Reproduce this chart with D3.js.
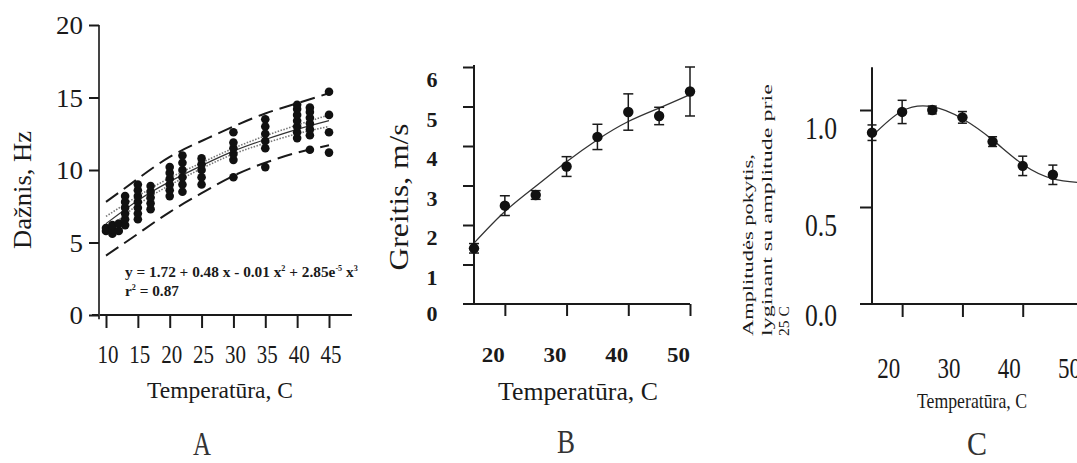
<!DOCTYPE html>
<html>
<head>
<meta charset="utf-8">
<script src="https://cdn.jsdelivr.net/npm/d3@7"></script>
<style>
  body { margin: 0; background: #fff; }
  svg { display: block; font-family: "Liberation Serif", "Times New Roman", serif; }
  svg text { font-family: "Liberation Serif", "Times New Roman", serif; }
</style>
</head>
<body>
<svg id="chart" width="1077" height="463"></svg>
<script>
// ---- panel A: frequency vs temperature ----
var aTemps = [10, 11, 12, 13, 15, 17, 20, 22, 25, 30, 35, 40, 42, 45];
var aValues = [
  [5.8, 6.0],
  [5.6, 5.9, 6.2],
  [5.8, 6.3],
  [6.2, 6.6, 7.0, 7.4, 7.8, 8.2],
  [6.6, 7.0, 7.4, 7.8, 8.2, 8.6, 9.0],
  [7.3, 7.7, 8.1, 8.5, 8.9],
  [8.2, 8.6, 9.0, 9.4, 9.8, 10.2],
  [8.5, 9.0, 9.5, 10.0, 10.5, 11.0],
  [9.0, 9.5, 10.0, 10.4, 10.8],
  [9.5, 10.7, 11.1, 11.5, 11.9, 12.6],
  [10.2, 11.5, 12.0, 12.5, 13.0, 13.5],
  [12.2, 12.6, 13.0, 13.4, 13.8, 14.2, 14.5],
  [11.4, 12.4, 12.8, 13.2, 13.6, 14.0, 14.3],
  [11.2, 12.6, 13.8, 15.4]
];
var aFitT  = [10, 15, 20, 25, 30, 35, 40, 45];
var aFit   = [6.3, 7.9, 9.2, 10.3, 11.3, 12.1, 12.8, 13.4];
var aCiHi  = [6.8, 8.2, 9.45, 10.5, 11.5, 12.35, 13.1, 13.8];
var aCiLo  = [5.8, 7.6, 8.95, 10.1, 11.1, 11.85, 12.5, 13.0];
var aPredHi = [7.8, 9.4, 10.9, 12.0, 13.0, 13.9, 14.6, 15.3];
var aPredLo = [4.1, 5.6, 7.1, 8.4, 9.6, 10.5, 11.2, 11.7];
var aXTicks = [10, 15, 20, 25, 30, 35, 40, 45];
var aYTicks = [0, 5, 10, 15, 20];

// ---- panel B: speed vs temperature ----
var bTemps = [15, 20, 25, 30, 35, 40, 45, 50];
var bMeans = [1.41, 2.49, 2.76, 3.48, 4.23, 4.86, 4.76, 5.38];
var bErr   = [0.12, 0.25, 0.11, 0.25, 0.32, 0.46, 0.22, 0.62];
var bFit   = [1.54, 2.34, 2.98, 3.6, 4.16, 4.62, 4.96, 5.3];
var bXTicks = [20, 30, 40, 50];
var bYTicks = [0, 1, 2, 3, 4, 5, 6];

// ---- panel C: relative amplitude vs temperature ----
var cTemps = [15, 20, 25, 30, 35, 40, 45, 50];
var cMeans = [0.883, 0.99, 1.0, 0.962, 0.837, 0.712, 0.666, 0.63];
var cErr   = [0.04, 0.06, 0.02, 0.03, 0.025, 0.05, 0.05, 0.04];
var cFit   = [0.865, 0.995, 1.017, 0.955, 0.846, 0.72, 0.645, 0.625];
var cXTicks = [20, 30, 40, 50];
var cYTicks = [0, 0.5, 1.0];

var svg = d3.select("#chart");
var ink = "#1a1a1a";

// put a text at x,y, optionally rotated, squeezed to a given width/length
function label(g, s, x, y, o) {
  var t = g.append("text").text(s)
    .attr("font-size", o.size)
    .attr("font-weight", o.weight || "normal")
    .attr("text-anchor", o.anchor || "middle")
    .attr("fill", o.fill || ink);
  var k = o.w ? o.w / t.node().getComputedTextLength() : 1;
  t.attr("transform", "translate(" + x + "," + y + ")" + (o.rot ? " rotate(-90)" : "") + " scale(" + k + ",1)");
  return t;
}

// restyle the tick labels that d3.axis made; o.cw = width per character
function fixTicks(sel, o) {
  sel.attr("font-family", null);
  sel.selectAll("text").each(function(d) {
    var t = d3.select(this);
    t.attr("x", null).attr("y", null).attr("dy", null)
      .attr("font-size", o.size).attr("font-weight", o.weight || "normal")
      .attr("fill", ink)
      .attr("text-anchor", o.anchor || "middle");
    var k = o.cw ? o.cw * t.text().length / this.getComputedTextLength() : 1;
    t.attr("transform", "translate(" + o.dx + "," + o.dy + ") scale(" + k + ",1)");
  });
}

function styleAxis(g) {
  g.select(".domain").remove();
  g.selectAll(".tick line").attr("stroke", ink).attr("stroke-width", 2);
}

// ================= A =================
var xA = d3.scaleLinear().domain([10, 45]).range([106, 329]);
var yA = d3.scaleLinear().domain([0, 20]).range([315, 25]);
var gA = svg.append("g");
var axAx = xA(10) - 7;

gA.append("line").attr("x1", xA(7.8)).attr("x2", xA(48.6)).attr("y1", yA(0)).attr("y2", yA(0))
  .attr("stroke", ink).attr("stroke-width", 2);
gA.append("line").attr("x1", axAx).attr("x2", axAx).attr("y1", yA(20)).attr("y2", yA(-0.3))
  .attr("stroke", "#444").attr("stroke-width", 2);

var axA_y = gA.append("g").attr("transform", "translate(" + axAx + ",0)")
  .call(d3.axisLeft(yA).tickValues(aYTicks).tickSize(10));
styleAxis(axA_y);
fixTicks(axA_y, { size: 25, anchor: "end", cw: 13.5, dx: -16, dy: 8.5 });

var axA_x = gA.append("g").attr("transform", "translate(0," + yA(0) + ")")
  .call(d3.axisBottom(xA).tickValues(aXTicks).tickSize(13));
styleAxis(axA_x);
fixTicks(axA_x, { size: 25, cw: 10.5, dx: 1.5, dy: 48 });

function bandLine(vals) {
  return d3.line().curve(d3.curveNatural)
    .x(function(d, i) { return xA(aFitT[i]); })
    .y(function(d) { return yA(d); })(vals);
}
[aPredHi, aPredLo].forEach(function(v) {
  gA.append("path").attr("d", bandLine(v)).attr("fill", "none")
    .attr("stroke", ink).attr("stroke-width", 2).attr("stroke-dasharray", "15,7");
});
[aCiHi, aCiLo].forEach(function(v) {
  gA.append("path").attr("d", bandLine(v)).attr("fill", "none")
    .attr("stroke", "#777").attr("stroke-width", 1.6).attr("stroke-dasharray", "1.5,1.5");
});
gA.append("path").attr("d", bandLine(aFit)).attr("fill", "none")
  .attr("stroke", "#333").attr("stroke-width", 1.2);

var aPts = [];
aTemps.forEach(function(t, i) { aValues[i].forEach(function(v) { aPts.push({ t: t, v: v }); }); });
gA.selectAll("circle.pt").data(aPts).enter().append("circle")
  .attr("class", "pt")
  .attr("cx", function(d) { return xA(d.t); })
  .attr("cy", function(d) { return yA(d.v); })
  .attr("r", 4.3).attr("fill", "#111");

var eq = gA.append("text").attr("font-size", 15).attr("font-weight", "bold").attr("fill", ink);
eq.append("tspan").text("y = 1.72 + 0.48 x - 0.01 x");
eq.append("tspan").text("2").attr("font-size", 8).attr("dy", -6);
eq.append("tspan").text(" + 2.85e").attr("dy", 6);
eq.append("tspan").text("-5").attr("font-size", 8).attr("dy", -6);
eq.append("tspan").text(" x").attr("dy", 6);
eq.append("tspan").text("3").attr("font-size", 8).attr("dy", -6);
eq.attr("transform", "translate(125,277) scale(" + (233 / eq.node().getComputedTextLength()) + ",1)");

var r2 = gA.append("text").attr("font-size", 15).attr("font-weight", "bold").attr("fill", ink);
r2.append("tspan").text("r");
r2.append("tspan").text("2").attr("font-size", 8).attr("dy", -6);
r2.append("tspan").text(" = 0.87").attr("dy", 6);
r2.attr("transform", "translate(125,296) scale(" + (54 / r2.node().getComputedTextLength()) + ",1)");

label(gA, "Temperatūra, C", 220, 398, { size: 24, w: 146 });
label(gA, "Dažnis, Hz", 31, 190, { size: 26, rot: true, w: 118 });
label(gA, "A", 202, 455, { size: 34, w: 18, fill: "#333" });

// ================= B =================
var xB = d3.scaleLinear().domain([15, 50]).range([474, 690]);
var yB = d3.scaleLinear().domain([0, 6]).range([304, 67]);
var gB = svg.append("g");

gB.append("line").attr("x1", xB(15) - 11).attr("x2", xB(50)).attr("y1", yB(0)).attr("y2", yB(0))
  .attr("stroke", ink).attr("stroke-width", 2);
gB.append("line").attr("x1", xB(15)).attr("x2", xB(15)).attr("y1", yB(6.05)).attr("y2", yB(0))
  .attr("stroke", ink).attr("stroke-width", 2);

var axB_y = gB.append("g").attr("transform", "translate(" + xB(15) + ",0)")
  .call(d3.axisLeft(yB).tickValues(bYTicks.slice(1)).tickSize(11));
styleAxis(axB_y);
axB_y.selectAll("text").remove();
bYTicks.forEach(function(v) {
  label(gB, String(v), xB(15) - 42, yB(v) + (v === 0 ? 9 : 12) + 8, { size: 22, weight: "bold", w: 11 });
});

var axB_x = gB.append("g").attr("transform", "translate(0," + yB(0) + ")")
  .call(d3.axisBottom(xB).tickValues(bXTicks).tickSize(12));
styleAxis(axB_x);
fixTicks(axB_x, { size: 21, weight: "bold", cw: 11.5, dx: -12, dy: 58 });

gB.append("path")
  .attr("d", d3.line().curve(d3.curveNatural)
    .x(function(d, i) { return xB(bTemps[i]); })
    .y(function(d) { return yB(d); })(bFit))
  .attr("fill", "none").attr("stroke", "#333").attr("stroke-width", 1.3);

var bG = gB.selectAll("g.pt").data(bTemps).enter().append("g").attr("class", "pt");
bG.append("line")
  .attr("x1", function(d) { return xB(d); }).attr("x2", function(d) { return xB(d); })
  .attr("y1", function(d, i) { return yB(bMeans[i] - bErr[i]); })
  .attr("y2", function(d, i) { return yB(bMeans[i] + bErr[i]); })
  .attr("stroke", ink).attr("stroke-width", 1.5);
[-1, 1].forEach(function(s) {
  bG.append("line")
    .attr("x1", function(d) { return xB(d) - 5; }).attr("x2", function(d) { return xB(d) + 5; })
    .attr("y1", function(d, i) { return yB(bMeans[i] + s * bErr[i]); })
    .attr("y2", function(d, i) { return yB(bMeans[i] + s * bErr[i]); })
    .attr("stroke", ink).attr("stroke-width", 1.5);
});
bG.append("circle")
  .attr("cx", function(d) { return xB(d); })
  .attr("cy", function(d, i) { return yB(bMeans[i]); })
  .attr("r", 5.2).attr("fill", "#111");

label(gB, "Temperatūra, C", 578, 400, { size: 25, w: 160 });
label(gB, "Greitis, m/s", 408, 197, { size: 28, rot: true, w: 147 });
label(gB, "B", 566, 453, { size: 34, w: 18, fill: "#333" });

// ================= C =================
var xC = d3.scaleLinear().domain([15, 50]).range([872, 1083]);
var yC = d3.scaleLinear().domain([0, 1]).range([304, 110]);
var gC = svg.append("g");

gC.append("line").attr("x1", xC(15) - 12).attr("x2", xC(55)).attr("y1", yC(0)).attr("y2", yC(0))
  .attr("stroke", ink).attr("stroke-width", 2);
gC.append("line").attr("x1", xC(15)).attr("x2", xC(15)).attr("y1", yC(1.22)).attr("y2", yC(0))
  .attr("stroke", ink).attr("stroke-width", 2);

var axC_y = gC.append("g").attr("transform", "translate(" + xC(15) + ",0)")
  .call(d3.axisLeft(yC).tickValues(cYTicks.slice(1)).tickSize(12));
styleAxis(axC_y);
axC_y.selectAll("text").remove();
cYTicks.forEach(function(v) {
  label(gC, d3.format(".1f")(v), xC(15) - 35, yC(v) + (v === 0 ? 11 : 18) + 11,
    { size: 32, anchor: "end", w: 32 });
});

var axC_x = gC.append("g").attr("transform", "translate(0," + yC(0) + ")")
  .call(d3.axisBottom(xC).tickValues(cXTicks).tickSize(13));
styleAxis(axC_x);
fixTicks(axC_x, { size: 29, cw: 11.5, dx: -14, dy: 74 });

gC.append("path")
  .attr("d", d3.line().curve(d3.curveNatural)
    .x(function(d, i) { return xC(cTemps[i]); })
    .y(function(d) { return yC(d); })(cFit))
  .attr("fill", "none").attr("stroke", "#333").attr("stroke-width", 1.3);

var cG = gC.selectAll("g.pt").data(cTemps).enter().append("g").attr("class", "pt");
cG.append("line")
  .attr("x1", function(d) { return xC(d); }).attr("x2", function(d) { return xC(d); })
  .attr("y1", function(d, i) { return yC(cMeans[i] - cErr[i]); })
  .attr("y2", function(d, i) { return yC(cMeans[i] + cErr[i]); })
  .attr("stroke", ink).attr("stroke-width", 1.5);
[-1, 1].forEach(function(s) {
  cG.append("line")
    .attr("x1", function(d) { return xC(d) - 4.5; }).attr("x2", function(d) { return xC(d) + 4.5; })
    .attr("y1", function(d, i) { return yC(cMeans[i] + s * cErr[i]); })
    .attr("y2", function(d, i) { return yC(cMeans[i] + s * cErr[i]); })
    .attr("stroke", ink).attr("stroke-width", 1.5);
});
cG.append("circle")
  .attr("cx", function(d) { return xC(d); })
  .attr("cy", function(d, i) { return yC(cMeans[i]); })
  .attr("r", 5.2).attr("fill", "#111");

label(gC, "Temperatūra, C", 972, 408, { size: 22, w: 110 });
label(gC, "Amplitudės pokytis,", 753, 336, { size: 15, rot: true, anchor: "start", w: 182 });
label(gC, "lyginant su amplitude prie", 772, 336, { size: 15, rot: true, anchor: "start", w: 252 });
label(gC, "25 C", 789, 336, { size: 15, rot: true, anchor: "start", w: 30 });
label(gC, "C", 977, 455, { size: 34, w: 20, fill: "#333" });
</script>
</body>
</html>
